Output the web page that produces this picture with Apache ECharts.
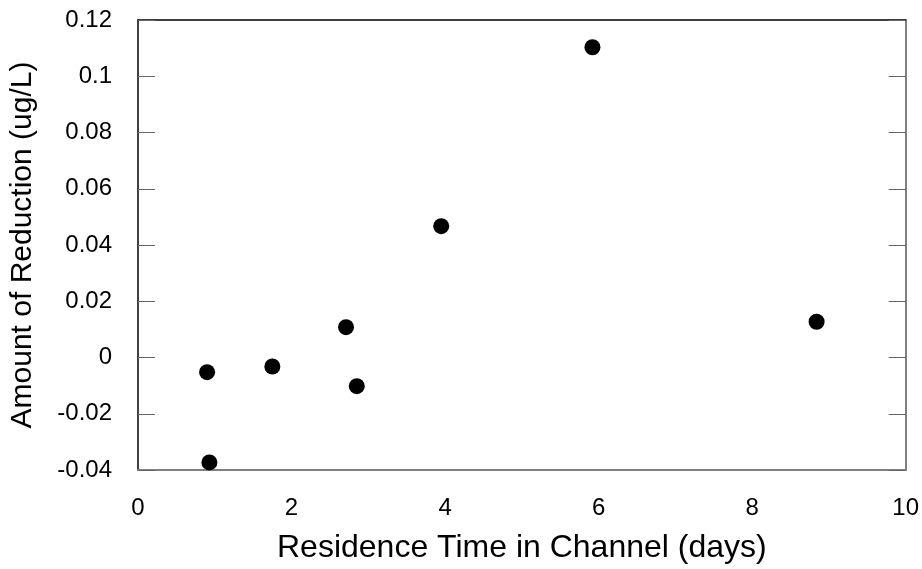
<!DOCTYPE html>
<html>
<head>
<meta charset="utf-8">
<script src="https://cdn.jsdelivr.net/npm/echarts@6/dist/echarts.min.js"></script>
<style>html,body{margin:0;padding:0;background:#fff;}#c{width:922px;height:569px;}</style>
</head>
<body>
<div id="c"></div>
<script>
var residenceDays = [0.90, 0.93, 1.75, 2.71, 2.85, 3.95, 5.92, 8.84];
var reduction = [-0.0052, -0.0373, -0.0032, 0.0108, -0.0102, 0.0467, 0.1103, 0.0127];
var xTitle = 'Residence Time in Channel (days)';
var yTitle = 'Amount of Reduction (ug/L)';

var pts = residenceDays.map(function (x, i) { return [x, reduction[i]]; });
var font = 'Liberation Sans, Arial, sans-serif';
var chart = echarts.init(document.getElementById('c'));
chart.setOption({
  animation: false,
  backgroundColor: '#fff',
  grid: { left: 138, right: 16, top: 20, bottom: 96 },
  xAxis: [{
    type: 'value', position: 'bottom', min: 0, max: 10, interval: 2,
    name: xTitle, nameLocation: 'middle', nameGap: 62,
    nameTextStyle: { fontSize: 32, color: '#000', fontFamily: font },
    axisLine: { show: true, onZero: false, lineStyle: { color: '#808080', width: 2 } },
    axisTick: { show: false },
    axisLabel: { fontSize: 24, color: '#000', fontFamily: font, margin: 26 },
    splitLine: { show: false }
  }, {
    type: 'value', position: 'top', min: 0, max: 10, interval: 2,
    axisLine: { show: true, onZero: false, lineStyle: { color: '#000', width: 1.5 } },
    axisTick: { show: false }, axisLabel: { show: false }, splitLine: { show: false }
  }],
  yAxis: [{
    type: 'value', position: 'left', min: -0.04, max: 0.12, interval: 0.02,
    name: yTitle, nameLocation: 'middle', nameGap: 100,
    nameTextStyle: { fontSize: 30, color: '#000', fontFamily: font },
    axisLine: { show: true, onZero: false, lineStyle: { color: '#000', width: 1.5 } },
    axisTick: { show: true, inside: true, length: 17, lineStyle: { color: '#666', width: 1 } },
    axisLabel: { fontSize: 24, color: '#000', fontFamily: font, margin: 26,
      formatter: function (v) { return String(Math.round(v * 100) / 100); } },
    splitLine: { show: false }
  }, {
    type: 'value', position: 'right', min: -0.04, max: 0.12, interval: 0.02,
    axisLine: { show: true, onZero: false, lineStyle: { color: '#808080', width: 2 } },
    axisTick: { show: true, inside: true, length: 17, lineStyle: { color: '#666', width: 1 } },
    axisLabel: { show: false }, splitLine: { show: false }
  }],
  series: [{
    type: 'scatter', xAxisIndex: 0, yAxisIndex: 0,
    data: pts, symbol: 'circle', symbolSize: 16,
    itemStyle: { color: '#000', opacity: 1 }
  }]
});
</script>
</body>
</html>
